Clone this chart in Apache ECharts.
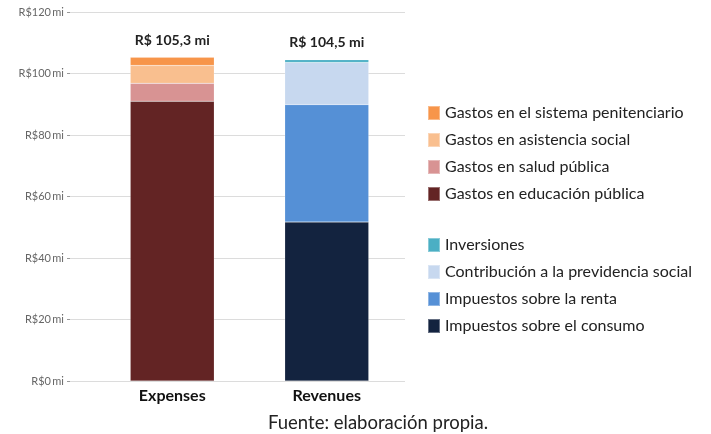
<!DOCTYPE html>
<html>
<head>
<meta charset="utf-8">
<script src="https://cdn.jsdelivr.net/npm/echarts@6/dist/echarts.min.js"></script>
<style>html,body{margin:0;padding:0;background:#fff}#c{width:711px;height:434px}</style>
</head>
<body>
<div id="c"></div>
<script>
var categories = ['Expenses', 'Revenues'];
var yTicks = [0, 20, 40, 60, 80, 100, 120];
// Expenses (bottom to top)
var educacion = [91.0, '-'];
var salud = [5.8, '-'];
var asistencia = [5.8, '-'];
var penitenciario = [2.7, '-'];
// Revenues (bottom to top)
var consumo = ['-', 51.7];
var renta = ['-', 38.2];
var previdencia = ['-', 13.7];
var inversiones = ['-', 0.9];
var sourceText = 'Fuente: elaboración propia.';

var FONT = 'Lato';
function total(i, arrs) {
  var s = 0;
  arrs.forEach(function (a) { if (a[i] !== '-') s += a[i]; });
  return 'R$ ' + s.toFixed(1).replace('.', ',') + ' mi';
}
var totals = [
  total(0, [educacion, salud, asistencia, penitenciario]),
  total(1, [consumo, renta, previdencia, inversiones])
];

function ser(name, data, color, showTop) {
  return {
    name: name, type: 'bar', stack: 'total', xAxisIndex: 1, yAxisIndex: 1,
    data: data, barWidth: 84,
    itemStyle: { color: color, borderColor: 'rgba(255,255,255,0.35)', borderWidth: 0.5 },
    label: showTop ? {
      show: true, position: 'top', distance: 10,
      formatter: function (p) { return totals[p.dataIndex]; },
      fontFamily: FONT, fontWeight: 'bold', fontSize: 14, color: '#222'
    } : { show: false },
    emphasis: { disabled: true }
  };
}

var legendText = { fontFamily: FONT, fontSize: 16, color: '#222' };
var chart = echarts.init(document.getElementById('c'));
chart.setOption({
  animation: false,
  grid: [
    { left: 70, right: 306, top: 12, bottom: 53 },
    { left: 95, right: 307, top: 12, bottom: 53 }
  ],
  xAxis: [
    { gridIndex: 0, type: 'value', show: false, min: 0, max: 1 },
    { gridIndex: 1, type: 'category', data: categories,
      axisLine: { show: false }, axisTick: { show: false },
      axisLabel: { margin: 7, fontFamily: FONT, fontWeight: 'bold', fontSize: 16, color: '#111' } }
  ],
  yAxis: [
    { gridIndex: 0, type: 'value', min: 0, max: 120, interval: 20,
      axisLine: { show: false },
      axisTick: { show: true, length: 3, lineStyle: { color: '#999' } },
      splitLine: { lineStyle: { color: '#dcdcdc', width: 1 } },
      axisLabel: { margin: 6, fontFamily: FONT, fontSize: 11, color: '#666',
        formatter: function (v) { return 'R$' + v + '\u2009mi'; } } },
    { gridIndex: 1, type: 'value', min: 0, max: 120, interval: 20, show: false,
      splitLine: { show: false } }
  ],
  legend: [
    { orient: 'vertical', left: 427, top: 105, padding: 0, itemWidth: 12, itemHeight: 14, itemGap: 11,
      icon: 'rect', selectedMode: false, textStyle: legendText,
      data: ['Gastos en el sistema penitenciario', 'Gastos en asistencia social', 'Gastos en salud pública', 'Gastos en educación pública'] },
    { orient: 'vertical', left: 427, top: 237, padding: 0, itemWidth: 12, itemHeight: 14, itemGap: 11,
      icon: 'rect', selectedMode: false, textStyle: legendText,
      data: ['Inversiones', 'Contribución a la previdencia social', 'Impuestos sobre la renta', 'Impuestos sobre el consumo'] }
  ],
  graphic: [
    { type: 'text', left: 268, top: 414, z: 10,
      style: { text: sourceText, fontFamily: FONT, fontSize: 18.5, fill: '#222' } }
  ],
  series: [
    ser('Gastos en educación pública', educacion, '#632424', false),
    ser('Gastos en salud pública', salud, '#D89393', false),
    ser('Gastos en asistencia social', asistencia, '#F9BF8F', false),
    ser('Gastos en el sistema penitenciario', penitenciario, '#F7954A', true),
    ser('Impuestos sobre el consumo', consumo, '#13233F', false),
    ser('Impuestos sobre la renta', renta, '#5590D6', false),
    ser('Contribución a la previdencia social', previdencia, '#C7D8EF', false),
    ser('Inversiones', inversiones, '#4BAFC4', true)
  ]
});
</script>
</body>
</html>
